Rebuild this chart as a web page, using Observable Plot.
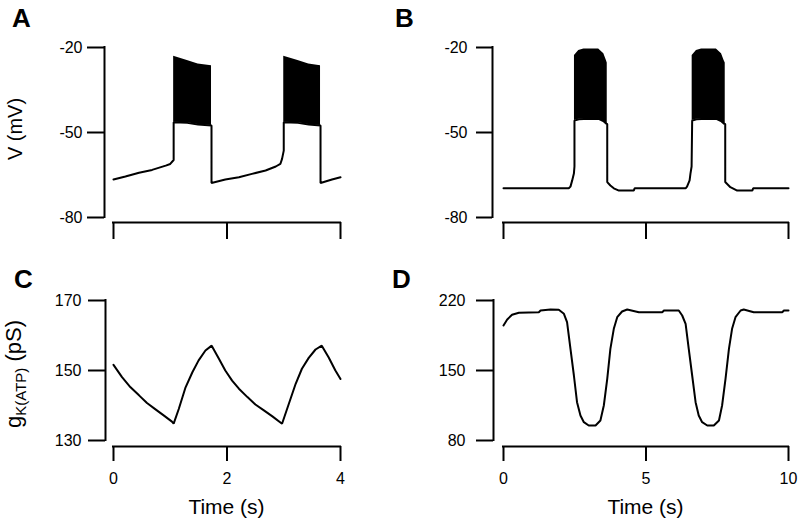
<!DOCTYPE html>
<html><head><meta charset="utf-8">
<script src="https://cdn.jsdelivr.net/npm/d3@7"></script>
<script src="https://cdn.jsdelivr.net/npm/@observablehq/plot@0.6"></script>
<style>
html,body{margin:0;padding:0;background:#fff;}
#chart{position:relative;width:800px;height:523px;overflow:hidden;font-family:"Liberation Sans",Arial,sans-serif;background:#fff;}
#chart svg{position:absolute;}
</style></head><body><div id="chart"></div>
<script>
// ---------- Panel A: membrane potential (mV) vs time (s), 0–4 s ----------
const timeA = [0, 0.21, 0.45, 0.68, 0.92, 1.0, 1.06, 1.06, 1.30, 1.49, 1.727, 1.727, 1.97, 2.21, 2.44, 2.68, 2.86, 2.94, 2.97, 3.0, 3.0, 3.25, 3.44, 3.648, 3.648, 3.85, 4.0];
const voltA = [-66.6, -65.5, -64.2, -63.2, -61.7, -61.1, -59.7, -46.4, -46.6, -47.2, -47.5, -67.8, -66.6, -65.8, -64.6, -63.4, -62.0, -61.1, -59.3, -56.4, -46.4, -46.6, -47.2, -47.5, -67.8, -66.6, -65.8];
// spike-burst envelopes (lower = spike troughs, upper = spike peaks)
const burstTimeA = [1.06, 1.30, 1.49, 1.727, 3.0, 3.25, 3.44, 3.648];
const burstLowA  = [-46.4, -46.6, -47.2, -47.5, -46.4, -46.6, -47.2, -47.5];
const burstHighA = [-23.1, -24.6, -25.8, -26.4, -23.1, -24.6, -25.8, -26.4];
const burstIdA   = [1, 1, 1, 1, 2, 2, 2, 2];

// ---------- Panel B: membrane potential (mV) vs time (s), 0–10 s ----------
const timeB = [0, 2.29, 2.35, 2.41, 2.47, 2.49, 2.49, 2.64, 2.82, 3.34, 3.52, 3.61, 3.64, 3.64, 3.75, 3.87, 4.05, 4.57, 4.6, 6.39, 6.44, 6.53, 6.56, 6.6, 6.62, 6.77, 6.95, 7.47, 7.65, 7.74, 7.78, 7.78, 7.96, 8.2, 8.73, 8.76, 10];
const voltB = [-69.7, -69.7, -69.1, -66.9, -64.5, -62, -45.8, -45.3, -45.2, -45.2, -46.1, -46.9, -47.0, -67.5, -68.7, -69.7, -70.5, -70.5, -69.7, -69.7, -69.1, -66.9, -64.5, -62, -45.8, -45.3, -45.2, -45.2, -46.1, -46.9, -47.0, -67.5, -69.3, -70.5, -70.5, -69.7, -69.7];
const burstTimeB = [2.49, 2.64, 2.82, 3.34, 3.52, 3.61, 3.64, 6.62, 6.77, 6.95, 7.47, 7.65, 7.74, 7.78];
const burstLowB  = [-45.8, -45.3, -45.2, -45.2, -46.1, -46.9, -47.0, -45.8, -45.3, -45.2, -45.2, -46.1, -46.9, -47.0];
const burstHighB = [-22.8, -21.1, -20.5, -20.5, -22.2, -24.6, -25.5, -22.8, -21.1, -20.5, -20.5, -22.2, -24.6, -25.5];
const burstIdB   = [1, 1, 1, 1, 1, 1, 1, 2, 2, 2, 2, 2, 2, 2];

// ---------- Panel C: gK(ATP) (pS) vs time (s), 0–4 s ----------
const timeC = [0, 0.15, 0.30, 0.45, 0.59, 0.74, 0.89, 1.03, 1.06, 1.15, 1.27, 1.39, 1.50, 1.62, 1.73, 1.86, 1.97, 2.09, 2.21, 2.36, 2.50, 2.65, 2.80, 2.97, 3.09, 3.21, 3.32, 3.44, 3.56, 3.67, 3.79, 3.91, 4.0];
const condC = [151.6, 148.1, 145.2, 142.9, 140.7, 138.9, 137.1, 135.4, 134.8, 139.0, 145.2, 149.5, 152.9, 155.7, 157.1, 153.3, 150.0, 147.1, 144.8, 142.4, 140.3, 138.6, 136.9, 134.8, 140.5, 146.2, 150.5, 153.6, 156.0, 157.1, 153.8, 150.0, 147.6];

// ---------- Panel D: gK(ATP) (pS) vs time (s), 0–10 s ----------
const timeD = [0, 0.13, 0.3, 0.54, 1.24, 1.3, 1.65, 1.94, 2.12, 2.23, 2.35, 2.47, 2.58, 2.70, 2.82, 2.99, 3.23, 3.40, 3.52, 3.64, 3.75, 3.87, 3.99, 4.16, 4.34, 4.75, 5.57, 5.63, 6.15, 6.27, 6.39, 6.5, 6.62, 6.74, 6.85, 6.97, 7.15, 7.38, 7.56, 7.67, 7.79, 7.91, 8.02, 8.14, 8.32, 8.43, 8.78, 9.78, 9.84, 10];
const condD = [195, 201, 205.7, 207.7, 208.3, 210, 211, 210.7, 206.7, 198.3, 171.7, 145, 118.3, 105, 98.3, 95, 95, 100, 115, 141.7, 171.7, 191.7, 203.3, 209, 211, 208.3, 208.3, 210, 210, 205, 196.7, 171.7, 145, 118.3, 105, 98.3, 95, 95, 100, 115, 141.7, 171.7, 191.7, 203.3, 210, 211, 208.3, 208.3, 210, 210];

// ---------- axes ----------
const ticksVolt = [-80, -50, -20];
const ticksCondC = [130, 150, 170];
const ticksCondD = [80, 150, 220];
const ticksTime4 = [0, 2, 4];
const ticksTime10 = [0, 5, 10];
const panelLetters = ["A", "B", "C", "D"];
const labelVolt = "V (mV)";
const labelCondMain = "g", labelCondSub = "K(ATP)", labelCondUnit = " (pS)";
const labelTime = "Time (s)";

const toRows = (t, v) => t.map((d, i) => ({t: d, v: v[i]}));
const toBurst = (t, lo, hi, id) => t.map((d, i) => ({t: d, lo: lo[i], hi: hi[i], id: id[i]}));

const FONT = '"Liberation Sans", Arial, sans-serif';
const chart = document.getElementById("chart");

function panel(c) {
  const marks = [];
  if (c.burst) marks.push(Plot.areaY(c.burst, {x: "t", y1: "lo", y2: "hi", z: "id", fill: "black"}));
  marks.push(Plot.line(c.trace, {x: "t", y: "v", stroke: "black", strokeWidth: 2, strokeLinejoin: "miter"}));
  marks.push(Plot.ruleX([c.xDomain[0]], {dx: c.yDx, stroke: "black", strokeWidth: 2, strokeLinecap: "square"}));
  marks.push(Plot.ruleY([c.yDomain[0]], {dy: c.xDy, stroke: "black", strokeWidth: 2, strokeLinecap: "square"}));
  marks.push(Plot.axisY({ticks: c.yTicks, tickSize: c.yTickSize, tickPadding: c.yPad, dx: c.yDx, strokeWidth: 2, stroke: "black", fill: "black", label: null, fontSize: 16, tickFormat: d => String(d)}));
  marks.push(Plot.axisX({ticks: c.xTicks, tickSize: c.xTickSize, tickPadding: c.xPad, dy: c.xDy, strokeWidth: 2, stroke: "black", fill: "black", label: null, fontSize: 16, tickFormat: c.showX ? (d => String(d)) : (() => "")}));
  const svg = Plot.plot({
    width: c.width, height: c.height,
    marginLeft: c.mL, marginRight: c.mR, marginTop: c.mT, marginBottom: c.mB,
    x: {domain: c.xDomain}, y: {domain: c.yDomain},
    style: {fontFamily: FONT, fontSize: "16px", color: "black", background: "transparent", overflow: "visible"},
    marks
  });
  svg.style.left = c.left + "px";
  svg.style.top = c.top + "px";
  chart.appendChild(svg);
}

panel({trace: toRows(timeA, voltA), burst: toBurst(burstTimeA, burstLowA, burstHighA, burstIdA),
  xDomain: [0, 4], yDomain: [-80, -20], xTicks: ticksTime4, yTicks: ticksVolt, showX: false,
  left: 0, top: 0, width: 400, height: 260, mL: 113, mR: 60, mT: 47, mB: 43,
  yDx: -9, yTickSize: 17, yPad: 5, xDy: 5, xTickSize: 17, xPad: 4});
panel({trace: toRows(timeB, voltB), burst: toBurst(burstTimeB, burstLowB, burstHighB, burstIdB),
  xDomain: [0, 10], yDomain: [-80, -20], xTicks: ticksTime10, yTicks: ticksVolt, showX: false,
  left: 400, top: 0, width: 400, height: 260, mL: 103, mR: 12, mT: 47, mB: 43,
  yDx: -11, yTickSize: 16, yPad: 9, xDy: 5, xTickSize: 17, xPad: 4});
panel({trace: toRows(timeC, condC),
  xDomain: [0, 4], yDomain: [130, 170], xTicks: ticksTime4, yTicks: ticksCondC, showX: true,
  left: 0, top: 260, width: 400, height: 263, mL: 113, mR: 60, mT: 40, mB: 83,
  yDx: -8, yTickSize: 17, yPad: 7, xDy: 6, xTickSize: 15, xPad: 11});
panel({trace: toRows(timeD, condD),
  xDomain: [0, 10], yDomain: [80, 220], xTicks: ticksTime10, yTicks: ticksCondD, showX: true,
  left: 400, top: 260, width: 400, height: 263, mL: 103, mR: 12, mT: 40, mB: 83,
  yDx: -10, yTickSize: 17, yPad: 11, xDy: 6, xTickSize: 15, xPad: 11});

// ---------- overlay text: panel letters and axis titles ----------
const ov = d3.select(chart).append("svg")
  .attr("width", 800).attr("height", 523)
  .style("left", "0px").style("top", "0px")
  .style("font-family", FONT).style("pointer-events", "none");
const letterPos = [[12, 27], [395, 27], [14, 288], [392, 288]];
panelLetters.forEach((L, i) => {
  ov.append("text").attr("x", letterPos[i][0]).attr("y", letterPos[i][1])
    .attr("font-size", 26).attr("font-weight", "bold").attr("fill", "black").text(L);
});
ov.append("text").attr("transform", "translate(22,129) rotate(-90)")
  .attr("text-anchor", "middle").attr("font-size", 20).attr("fill", "black").text(labelVolt);
const g = ov.append("text").attr("transform", "translate(21,374) rotate(-90)")
  .attr("text-anchor", "middle").attr("font-size", 22).attr("fill", "black");
g.append("tspan").text(labelCondMain);
g.append("tspan").attr("font-size", 15).attr("dy", 5).text(labelCondSub);
g.append("tspan").attr("dy", -5).text(labelCondUnit);
[226.5, 645.5].forEach(x => {
  ov.append("text").attr("x", x).attr("y", 514).attr("text-anchor", "middle")
    .attr("font-size", 21).attr("fill", "black").text(labelTime);
});
</script>
</body></html>
